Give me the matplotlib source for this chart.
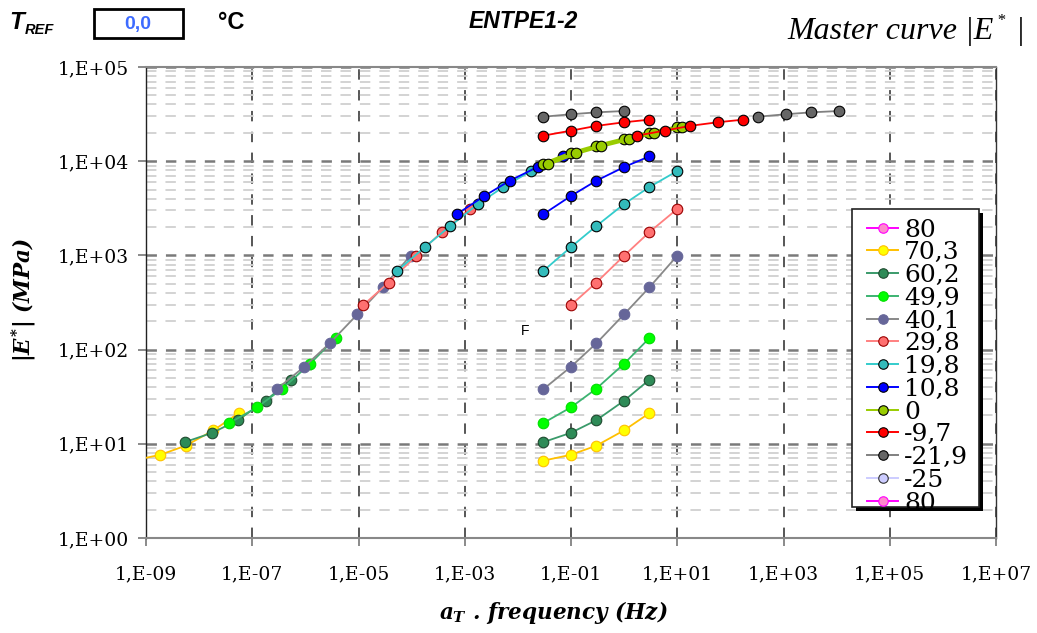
import numpy as np
import matplotlib
matplotlib.use('Agg')
import matplotlib.pyplot as plt
from matplotlib.ticker import FixedLocator, FixedFormatter, LogLocator, NullLocator, NullFormatter
from matplotlib.patches import Rectangle
from matplotlib.lines import Line2D

plt.rcParams['mathtext.fontset'] = 'custom'
plt.rcParams['mathtext.it'] = 'DejaVu Serif:italic:bold'
plt.rcParams['mathtext.rm'] = 'DejaVu Serif:bold'
plt.rcParams['mathtext.bf'] = 'DejaVu Serif:bold'
plt.rcParams['lines.scale_dashes'] = False

# ---------------- data ----------------
freqs = [0.03, 0.1, 0.3, 1, 3, 10]          # Hz

iso_labels = ['70,3', '60,2', '49,9', '40,1', '29,8', '19,8', '10,8', '0', '-9,7', '-21,9']
E_70_3 = [6.62, 7.65, 9.55, 13.9, 21.2]
E_60_2 = [10.4, 13.1, 17.8, 28.7, 47.9]
E_49_9 = [16.6, 24.4, 38.5, 70.8, 132.8]
E_40_1 = [37.9, 65.8, 116.6, 237, 459, 993]
E_29_8 = [None, 297, 515, 993, 1770, 3110]
E_19_8 = [683, 1227, 2050, 3513, 5326, 7870]
E_10_8 = [2730, 4280, 6210, 8670, 11270]
E_0 = [9340, 12140, 14500, 17200, 20100, 22900]
E_m9_7 = [18660, 21100, 23700, 25900, 27600]
E_m21_9 = [29650, 31500, 33000, 34100]
iso_values = [E_70_3, E_60_2, E_49_9, E_40_1, E_29_8, E_19_8, E_10_8, E_0, E_m9_7, E_m21_9]

# log10 of shift factor aT for each isotherm (Tref = 0 °C)
log_aT = [-7.73, -6.75, -5.91, -5.02, -3.91, -2.75, -1.63, 0.09, 1.76, 4.04]

legend_labels = ['80', '70,3', '60,2', '49,9', '40,1', '29,8', '19,8', '10,8', '0', '-9,7', '-21,9', '-25', '80']

x_ticks = [1e-9, 1e-7, 1e-5, 1e-3, 1e-1, 1e1, 1e3, 1e5, 1e7]
x_ticklabels = ['1,E-09', '1,E-07', '1,E-05', '1,E-03', '1,E-01', '1,E+01', '1,E+03', '1,E+05', '1,E+07']
y_ticks = [1e0, 1e1, 1e2, 1e3, 1e4, 1e5]
y_ticklabels = ['1,E+00', '1,E+01', '1,E+02', '1,E+03', '1,E+04', '1,E+05']

# ---------------- styles ----------------
# (line colour, marker face, marker edge)
legend_styles = [
    ('#ff00ff', '#ff88cc', '#ff00ff'),
    ('#ffc000', '#ffff00', '#ffc000'),
    ('#3a9a6a', '#2e8b57', '#1f4a2f'),
    ('#3cb371', '#00ff00', '#00dd00'),
    ('#888888', '#666699', '#666699'),
    ('#ff8080', '#ff7070', '#990000'),
    ('#33cccc', '#33bbbb', '#000000'),
    ('#0000ff', '#0000ff', '#000000'),
    ('#99cc00', '#99cc00', '#000000'),
    ('#ff0000', '#ff0000', '#000000'),
    ('#808080', '#666666', '#000000'),
    ('#ccccff', '#ccccff', '#333333'),
    ('#ff00ff', '#ff88cc', '#ff00ff'),
]
iso_styles = legend_styles[1:11]
iso_lw = [1.3, 1.3, 1.3, 1.3, 1.3, 1.3, 1.3, 2.6, 1.3, 1.3]

W, H = 1037, 633
fig = plt.figure(figsize=(W / 100, H / 100), dpi=100)

ax_l, ax_t, ax_r, ax_b = 146, 67, 996, 538
ax = fig.add_axes([ax_l / W, 1 - ax_b / H, (ax_r - ax_l) / W, (ax_b - ax_t) / H])
ax.set_xscale('log')
ax.set_yscale('log')
ax.set_xlim(1e-9, 1e7)
ax.set_ylim(1e0, 1e5)

ax.xaxis.set_major_locator(FixedLocator(x_ticks))
ax.xaxis.set_major_formatter(FixedFormatter(x_ticklabels))
ax.xaxis.set_minor_locator(NullLocator())
ax.yaxis.set_major_locator(FixedLocator(y_ticks))
ax.yaxis.set_major_formatter(FixedFormatter(y_ticklabels))
ax.yaxis.set_minor_locator(LogLocator(base=10, subs=np.arange(2, 10)))
ax.yaxis.set_minor_formatter(NullFormatter())

ax.yaxis.grid(True, which='minor', color='#d0d0d0', lw=1.3, ls=(0, (7.5, 6.5)))
ax.yaxis.grid(True, which='major', color='#7a7a7a', lw=1.8, ls=(0, (7.5, 6.5)))
ax.xaxis.grid(True, which='major', color='#3a3a3a', lw=1.2, ls=(0, (7.5, 7.5)))
ax.set_axisbelow(True)

ax.tick_params(axis='both', which='major', direction='out', length=5.5, width=1.2,
               color='#777777', labelsize=13.5, labelfontfamily='DejaVu Serif')
ax.tick_params(axis='y', which='major', pad=7)
ax.tick_params(axis='x', which='major', pad=14)
ax.tick_params(axis='y', which='minor', length=0)

for s, c, w in [('top', '#888888', 1.5), ('bottom', '#888888', 1.5),
                ('left', '#222222', 1.0), ('right', '#333333', 1.0)]:
    ax.spines[s].set_color(c)
    ax.spines[s].set_linewidth(w)

ms = 7.6
# isotherms (raw) and shifted data forming the master curve
for vals, shift, st, lw in zip(iso_values, log_aT, iso_styles, iso_lw):
    e = np.array([np.nan if v is None else v for v in vals], dtype=float)
    f = np.array(freqs[:len(e)], dtype=float)
    lc, fc, ec = st
    kw = dict(color=lc, lw=lw, marker='o', ms=ms, mfc=fc, mec=ec, mew=0.8, zorder=3)
    ax.plot(f, e, **kw)
    ax.plot(f * 10 ** shift, e, **kw)

# ---------------- overlay in pixel coordinates ----------------
ov = fig.add_axes([0, 0, 1, 1])
ov.set_xlim(0, W)
ov.set_ylim(H, 0)
ov.axis('off')
ov.patch.set_visible(False)

# header
ov.text(9, 29, 'T', fontsize=17.5, fontweight='bold', style='italic',
        family='Liberation Sans', va='baseline', ha='left')
ov.text(25, 34, 'REF', fontsize=10.5, fontweight='bold', style='italic',
        family='Liberation Sans', va='baseline', ha='left')
ov.add_patch(Rectangle((94, 9), 89, 29, fill=False, ec='black', lw=2))
ov.text(138, 24, '0,0', fontsize=14, fontweight='bold', color='#3d6bff',
        family='Liberation Sans', ha='center', va='center')
ov.text(218, 29, '°C', fontsize=17, fontweight='bold', family='Liberation Sans',
        va='baseline', ha='left')
ov.text(523, 28, 'ENTPE1-2', fontsize=16.5, fontweight='bold', style='italic',
        family='Liberation Sans', va='baseline', ha='center')
ov.text(994, 39, 'Master curve |E', fontsize=23, style='italic',
        family='Liberation Serif', va='baseline', ha='right')
ov.text(1001, 25, '*', fontsize=12, style='italic',
        family='Liberation Serif', va='baseline', ha='center')
ov.text(1020, 39, '|', fontsize=23, style='italic',
        family='Liberation Serif', va='baseline', ha='center')

# axis labels
ov.text(24, 300, r'|$E^{*}$| (MPa)', fontsize=15.5, fontweight='bold', style='italic',
        family='DejaVu Serif', rotation=90, ha='center', va='center')
ov.text(554, 613, r'$a_{T}$ . frequency (Hz)', fontsize=15.5, fontweight='bold',
        style='italic', family='DejaVu Serif', ha='center', va='center')

# stray label
ov.text(525, 331, 'F', fontsize=10, family='Liberation Sans', ha='center', va='center')

# legend
lx0, ly0, lx1, ly1 = 852, 209, 979, 507
ov.add_patch(Rectangle((lx0 + 4, ly0 + 4), lx1 - lx0, ly1 - ly0, fc='black', ec='none', zorder=5))
box = Rectangle((lx0, ly0), lx1 - lx0, ly1 - ly0, fc='white', ec='#222222', lw=1.2, zorder=6)
ov.add_patch(box)
row0, drow = 227.7, 22.75
for i, (lab, st) in enumerate(zip(legend_labels, legend_styles)):
    yy = row0 + i * drow
    lc, fc, ec = st
    ln = Line2D([867, 898], [yy, yy], color=lc, lw=1.4, zorder=7)
    ov.add_line(ln)
    mk = Line2D([882.5], [yy], marker='o', ms=ms * 0.9, mfc=fc, mec=ec, mew=0.8,
                ls='none', zorder=8)
    ov.add_line(mk)
    ln.set_clip_path(box)
    mk.set_clip_path(box)
    t = ov.text(904, yy + 9, lab, fontsize=18, family='DejaVu Serif',
                va='baseline', ha='left', zorder=8)
    t.set_clip_path(box)

fig.savefig('out.png', dpi=100)
